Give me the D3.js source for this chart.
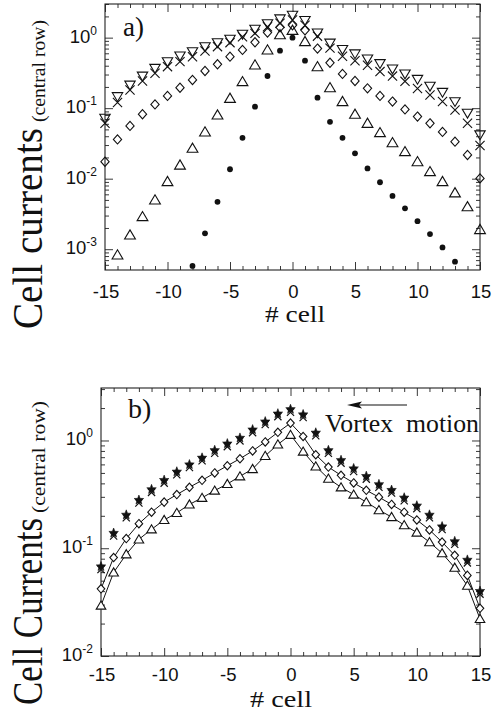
<!DOCTYPE html>
<html>
<head>
<meta charset="utf-8">
<script src="https://cdn.jsdelivr.net/npm/d3@7"></script>
<style>
  body { margin: 0; background: #fff; }
  svg { display: block; }
  .tick-label { font-family: "Liberation Sans", Arial, sans-serif; font-size: 18.5px; fill: #111; }
  .serif { font-family: "Liberation Serif", "Times New Roman", serif; fill: #111; }
</style>
</head>
<body>
<svg id="fig" width="496" height="715"></svg>
<script>
// ---- data: cell currents along the central row ----
const cells    = [-15,-14,-13,-12,-11,-10,-9,-8,-7,-6,-5,-4,-3,-2,-1,0,1,2,3,4,5,6,7,8,9,10,11,12,13,14,15];
const cellsTri = [-14,-13,-12,-11,-10,-9,-8,-7,-6,-5,-4,-3,-2,-1,0,1,2,3,4,5,6,7,8,9,10,11,12,13,14,15];
const cellsDot = [-8,-7,-6,-5,-4,-3,-2,-1,0,1,2,3,4,5,6,7,8,9,10,11,12,13];

// panel a)
const aDownTri = [0.072,0.146,0.213,0.286,0.368,0.457,0.55,0.633,0.745,0.849,0.95,1.12,1.32,1.58,1.85,2.08,1.76,1.17,0.84,0.68,0.59,0.50,0.43,0.36,0.306,0.257,0.205,0.168,0.124,0.085,0.042];
const aCross   = [0.061,0.12,0.181,0.243,0.313,0.388,0.457,0.537,0.648,0.745,0.849,1.03,1.15,1.43,1.6,1.78,1.5,1.05,0.71,0.545,0.47,0.405,0.33,0.285,0.24,0.19,0.154,0.124,0.094,0.061,0.0295];
const aDiamond = [0.0174,0.036,0.056,0.082,0.113,0.149,0.195,0.251,0.337,0.419,0.537,0.67,0.86,1.18,1.4,1.5,1.27,0.70,0.44,0.306,0.243,0.191,0.149,0.124,0.096,0.076,0.061,0.046,0.0335,0.0217,0.0101];
const aTri     = [0.00083,0.00159,0.0029,0.0050,0.0091,0.0156,0.027,0.046,0.080,0.138,0.238,0.41,0.67,1.1,1.27,0.88,0.388,0.195,0.124,0.082,0.061,0.045,0.0324,0.0242,0.0174,0.0126,0.0091,0.0063,0.0040,0.0019];
const aDot     = [0.00058,0.00168,0.0047,0.0136,0.038,0.105,0.286,0.654,1.0,0.472,0.141,0.064,0.038,0.0229,0.014,0.0089,0.0057,0.0038,0.0025,0.00164,0.00106,0.000665];

// panel b)
const bStar    = [0.066,0.135,0.199,0.273,0.343,0.418,0.50,0.583,0.673,0.791,0.912,1.03,1.23,1.46,1.73,1.9,1.70,1.15,0.79,0.64,0.536,0.455,0.382,0.338,0.287,0.242,0.199,0.155,0.113,0.076,0.039];
const bDiamond = [0.042,0.082,0.123,0.169,0.216,0.268,0.315,0.368,0.427,0.50,0.583,0.677,0.80,0.97,1.19,1.45,1.09,0.738,0.567,0.475,0.404,0.345,0.298,0.255,0.216,0.183,0.148,0.114,0.086,0.056,0.0277];
const bTri     = [0.0294,0.0596,0.088,0.121,0.150,0.183,0.213,0.255,0.294,0.343,0.395,0.465,0.544,0.72,0.92,1.13,0.79,0.575,0.443,0.368,0.315,0.268,0.226,0.195,0.164,0.14,0.114,0.09,0.066,0.045,0.0221];

// ---- axis labelling ----
const xTickValues = cells;
const xTickLabels = [-15,-10,-5,0,5,10,15];
const aDecades = [0,-1,-2,-3];
const bDecades = [0,-1,-2];

const svg = d3.select("#fig");

// ---- marker shapes ----
const shapes = {
  downTri: (r) => `M${-r},${-r*0.75}L${r},${-r*0.75}L0,${r*0.95}Z`,
  upTri:   (r) => `M${-r},${r*0.75}L${r},${r*0.75}L0,${-r*0.95}Z`,
  diamond: (r) => `M0,${-r}L${r*0.9},0L0,${r}L${-r*0.9},0Z`,
  cross:   (r) => `M${-r},${-r}L${r},${r}M${r},${-r}L${-r},${r}`,
  star:    (r) => {
    let p = "";
    for (let i = 0; i < 10; i++) {
      const rad = i % 2 ? r * 0.42 : r;
      const a = -Math.PI / 2 + i * Math.PI / 5;
      p += (i ? "L" : "M") + (rad * Math.cos(a)).toFixed(2) + "," + (rad * Math.sin(a)).toFixed(2);
    }
    return p + "Z";
  }
};

function drawFrame(P, x, y, decades, labelY) {
  const g = svg.append("g");
  const isMajorX = d => d % 5 === 0;
  const isMajorY = d => Math.abs(Math.log10(d) - Math.round(Math.log10(d))) < 1e-9;
  const yTicks = y.ticks();

  const bottom = g.append("g").attr("transform", `translate(0,${P.bottom})`)
    .call(d3.axisBottom(x).tickValues(xTickValues).tickFormat("").tickSizeOuter(0));
  bottom.selectAll(".tick line").attr("y2", d => isMajorX(d) ? -8 : -4);

  const top = g.append("g").attr("transform", `translate(0,${P.top})`)
    .call(d3.axisTop(x).tickValues(xTickValues).tickFormat("").tickSizeOuter(0));
  top.selectAll(".tick line").attr("y2", d => isMajorX(d) ? 8 : 4);

  const left = g.append("g").attr("transform", `translate(${P.left},0)`)
    .call(d3.axisLeft(y).tickValues(yTicks).tickFormat("").tickSizeOuter(0));
  left.selectAll(".tick line").attr("x2", d => isMajorY(d) ? 8 : 4);

  const right = g.append("g").attr("transform", `translate(${P.right},0)`)
    .call(d3.axisRight(y).tickValues(yTicks).tickFormat("").tickSizeOuter(0));
  right.selectAll(".tick line").attr("x2", d => isMajorY(d) ? -8 : -4);

  g.selectAll(".domain").remove();
  g.selectAll(".tick line").attr("stroke", "#222").attr("stroke-width", 0.9);

  g.append("rect")
    .attr("x", P.left).attr("y", P.top)
    .attr("width", P.right - P.left).attr("height", P.bottom - P.top)
    .attr("fill", "none").attr("stroke", "#222").attr("stroke-width", 1.1);

  // x tick labels
  g.selectAll("text.xl").data(xTickLabels).join("text")
    .attr("class", "tick-label xl")
    .attr("x", d => x(d) + 1).attr("y", labelY)
    .attr("text-anchor", "middle")
    .text(d => String(d));

  // y tick labels: 10 with a raised exponent
  const yl = g.selectAll("text.yl").data(decades).join("text")
    .attr("class", "tick-label yl")
    .attr("x", P.left - 8).attr("y", d => y(Math.pow(10, d)) + 5)
    .attr("text-anchor", "end");
  yl.append("tspan").text("10");
  yl.append("tspan").attr("dy", -8).attr("font-size", 12).text(d => String(d));
  return g;
}

function plotPoints(g, x, y, xs, vals, shape, r, opts) {
  const o = Object.assign({ fill: "none", stroke: "#111", sw: 1.1, dy: 0 }, opts || {});
  g.append("g").selectAll("path").data(xs.map((c, i) => [c, vals[i]])).join("path")
    .attr("transform", d => `translate(${x(d[0])},${y(d[1]) + o.dy})`)
    .attr("d", shapes[shape](r))
    .attr("fill", o.fill).attr("stroke", o.stroke).attr("stroke-width", o.sw);
}

// ================= panel a) =================
const PA = { left: 105, right: 480, top: 4, bottom: 270 };
const xA = d3.scaleLinear().domain([-15, 15]).range([PA.left, PA.right]);
const yA = d3.scaleLog().domain([5.07e-4, 3.0]).range([PA.bottom, PA.top]);
const gA = drawFrame(PA, xA, yA, aDecades, 298);

plotPoints(gA, xA, yA, cells, aDownTri, "downTri", 5.2);
plotPoints(gA, xA, yA, cells, aCross, "cross", 4.6);
plotPoints(gA, xA, yA, cells, aDiamond, "diamond", 4.6);
plotPoints(gA, xA, yA, cellsTri, aTri, "upTri", 5.4);
gA.append("g").selectAll("circle").data(cellsDot.map((c, i) => [c, aDot[i]])).join("circle")
  .attr("cx", d => xA(d[0])).attr("cy", d => yA(d[1])).attr("r", 2.9).attr("fill", "#111");

svg.append("text").attr("class", "serif").attr("x", 123).attr("y", 36)
  .attr("font-size", 27).text("a)");
svg.append("text").attr("class", "serif").attr("x", 295).attr("y", 322)
  .attr("text-anchor", "middle").attr("font-size", 24).attr("textLength", 60)
  .attr("lengthAdjust", "spacingAndGlyphs").text("# cell");

// rotated axis title for a)
const tA = svg.append("g").attr("transform", "translate(42,329) rotate(-90)");
tA.append("text").attr("class", "serif").attr("x", 0).attr("y", 0)
  .attr("font-size", 43).attr("textLength", 201).attr("lengthAdjust", "spacingAndGlyphs")
  .text("Cell  currents");
tA.append("text").attr("class", "serif").attr("x", 207).attr("y", 3)
  .attr("font-size", 18).attr("textLength", 102).attr("lengthAdjust", "spacingAndGlyphs")
  .text("(central row)");

// ================= panel b) =================
const PB = { left: 101, right: 480, top: 388, bottom: 656 };
const xB = d3.scaleLinear().domain([-15, 15]).range([PB.left, PB.right]);
const yB = d3.scaleLog().domain([0.01, 3.07]).range([PB.bottom, PB.top]);
const gB = drawFrame(PB, xB, yB, bDecades, 681);

const lineB = d3.line().x(d => xB(d[0])).y(d => yB(d[1]));
[bDiamond, bTri].forEach(vals => {
  gB.append("path").datum(cells.map((c, i) => [c, vals[i]]))
    .attr("d", lineB).attr("fill", "none").attr("stroke", "#111").attr("stroke-width", 1);
});
plotPoints(gB, xB, yB, cells, bDiamond, "diamond", 4.2, { fill: "#fff" });
plotPoints(gB, xB, yB, cells, bTri, "upTri", 4.8, { fill: "#fff" });
plotPoints(gB, xB, yB, cells, bStar, "cross", 3.6, { dy: 1.8, sw: 1.2 });
plotPoints(gB, xB, yB, cells, bStar, "star", 5.0, { fill: "#111", sw: 0.6, dy: -1.2 });

svg.append("text").attr("class", "serif").attr("x", 128).attr("y", 418)
  .attr("font-size", 28).text("b)");
svg.append("text").attr("class", "serif").attr("x", 325).attr("y", 432)
  .attr("font-size", 25).attr("textLength", 154).attr("lengthAdjust", "spacingAndGlyphs")
  .style("white-space", "pre").text("Vortex  motion");
svg.append("text").attr("class", "serif").attr("x", 281).attr("y", 707)
  .attr("text-anchor", "middle").attr("font-size", 24).attr("textLength", 62)
  .attr("lengthAdjust", "spacingAndGlyphs").text("# cell");

// arrow indicating direction of vortex motion
svg.append("line").attr("x1", 407).attr("y1", 405).attr("x2", 356).attr("y2", 405)
  .attr("stroke", "#111").attr("stroke-width", 1.2);
svg.append("path").attr("d", "M347,405L362,401.5L359,405L362,408.5Z").attr("fill", "#111");

const tB = svg.append("g").attr("transform", "translate(42,705) rotate(-90)");
tB.append("text").attr("class", "serif").attr("x", 0).attr("y", 0)
  .attr("font-size", 43).attr("textLength", 187).attr("lengthAdjust", "spacingAndGlyphs")
  .text("Cell Currents");
tB.append("text").attr("class", "serif").attr("x", 192).attr("y", 3)
  .attr("font-size", 18).attr("textLength", 112).attr("lengthAdjust", "spacingAndGlyphs")
  .text("(central row)");
</script>
</body>
</html>
